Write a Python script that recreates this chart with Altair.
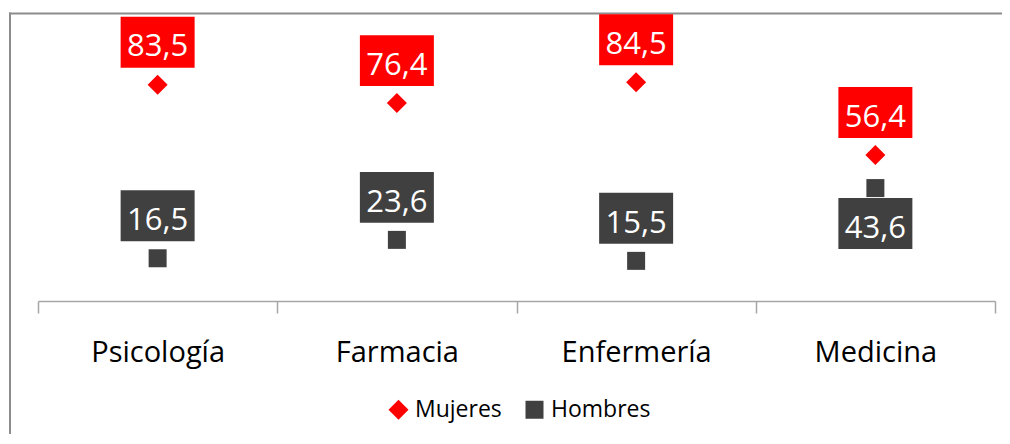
import altair as alt
import pandas as pd

categorias = ["Psicología", "Farmacia", "Enfermería", "Medicina"]
mujeres = [83.5, 76.4, 84.5, 56.4]
hombres = [16.5, 23.6, 15.5, 43.6]
series = ["Mujeres", "Hombres"]
colores = ["#FF0000", "#404040"]
formas = ["diamond", "square"]

rows = []
for c, m, h in zip(categorias, mujeres, hombres):
    rows.append({"cat": c, "serie": series[0], "valor": m})
    rows.append({"cat": c, "serie": series[1], "valor": h})
df = pd.DataFrame(rows)

FONT = "Open Sans"
AXIS_GRAY = "#a6a6a6"

x = alt.X(
    "cat:N",
    sort=categorias,
    scale=alt.Scale(paddingInner=0, paddingOuter=0),
    axis=alt.Axis(
        title=None, labelAngle=0, tickBand="extent", tickSize=12,
        tickColor=AXIS_GRAY, tickWidth=1.5, domainColor=AXIS_GRAY, domainWidth=1.5,
        labelFontSize=29, labelColor="#000000", labelFont=FONT,
        labelBaseline="alphabetic", labelPadding=48, grid=False,
    ),
)
y = alt.Y("valor:Q", scale=alt.Scale(domain=[0, 100]), axis=None)

leg = alt.Legend(
    title=None, orient="none", direction="horizontal", legendX=349, legendY=356,
    labelFontSize=23, labelFont=FONT, labelColor="#000000", symbolSize=289,
    symbolStrokeWidth=0, symbolOpacity=1, columnPadding=21, labelOffset=5, padding=0,
)

base = alt.Chart(df).transform_joinaggregate(
    vmax="max(valor)", vmin="min(valor)", groupby=["cat"]
).transform_calculate(
    below=f"datum.serie == '{series[1]}' && (datum.vmax - datum.vmin) < 20",
    label="replace(format(datum.valor, '.1f'), '.', ',')",
    boxcolor=f"datum.serie == '{series[0]}' ? '{colores[0]}' : '{colores[1]}'",
)

points = base.mark_point(filled=True, opacity=1, strokeWidth=0).encode(
    x=x, y=y,
    color=alt.Color("serie:N", scale=alt.Scale(domain=series, range=colores), legend=leg),
    shape=alt.Shape("serie:N", scale=alt.Scale(domain=series, range=formas), legend=leg),
    size=alt.Size("serie:N", scale=alt.Scale(domain=series, range=[400, 324]), legend=None),
)

BOX = "M-1,-0.689L1,-0.689L1,0.689L-1,0.689Z"

box_above = base.transform_filter("!datum.below").mark_point(
    shape=BOX, size=5476, filled=True, opacity=1, strokeWidth=0, yOffset=-42.5
).encode(x=x, y=y, color=alt.Color("boxcolor:N", scale=None))

box_below = base.transform_filter("datum.below").mark_point(
    shape=BOX, size=5476, filled=True, opacity=1, strokeWidth=0, yOffset=35.5
).encode(x=x, y=y, color=alt.Color("boxcolor:N", scale=None))

txt_above = base.transform_filter("!datum.below").mark_text(
    font=FONT, fontSize=31, color="#ffffff", baseline="alphabetic", dy=-28.3
).encode(x=x, y=y, text="label:N")

txt_below = base.transform_filter("datum.below").mark_text(
    font=FONT, fontSize=31, color="#ffffff", baseline="alphabetic", dy=49.7
).encode(x=x, y=y, text="label:N")

frame = alt.Data(values=[{"k": 1}])
frame_top = alt.Chart(frame).mark_rule(color="#8c8c8c", strokeWidth=2).encode(
    x=alt.value(-29), x2=alt.value(1100), y=alt.value(-28.5)
)
frame_left = alt.Chart(frame).mark_rule(color="#8c8c8c", strokeWidth=2).encode(
    x=alt.value(-28), y=alt.value(-29.5), y2=alt.value(600)
)

chart = alt.layer(
    frame_top, frame_left, points, box_above, box_below, txt_above, txt_below
).properties(
    width=957, height=259,
    autosize=alt.AutoSizeParams(type="none"),
    padding={"left": 30, "top": 34, "right": 7, "bottom": 133},
).configure_view(stroke=None)

chart.save("out.html", embed_options={"renderer": "svg", "actions": False})
